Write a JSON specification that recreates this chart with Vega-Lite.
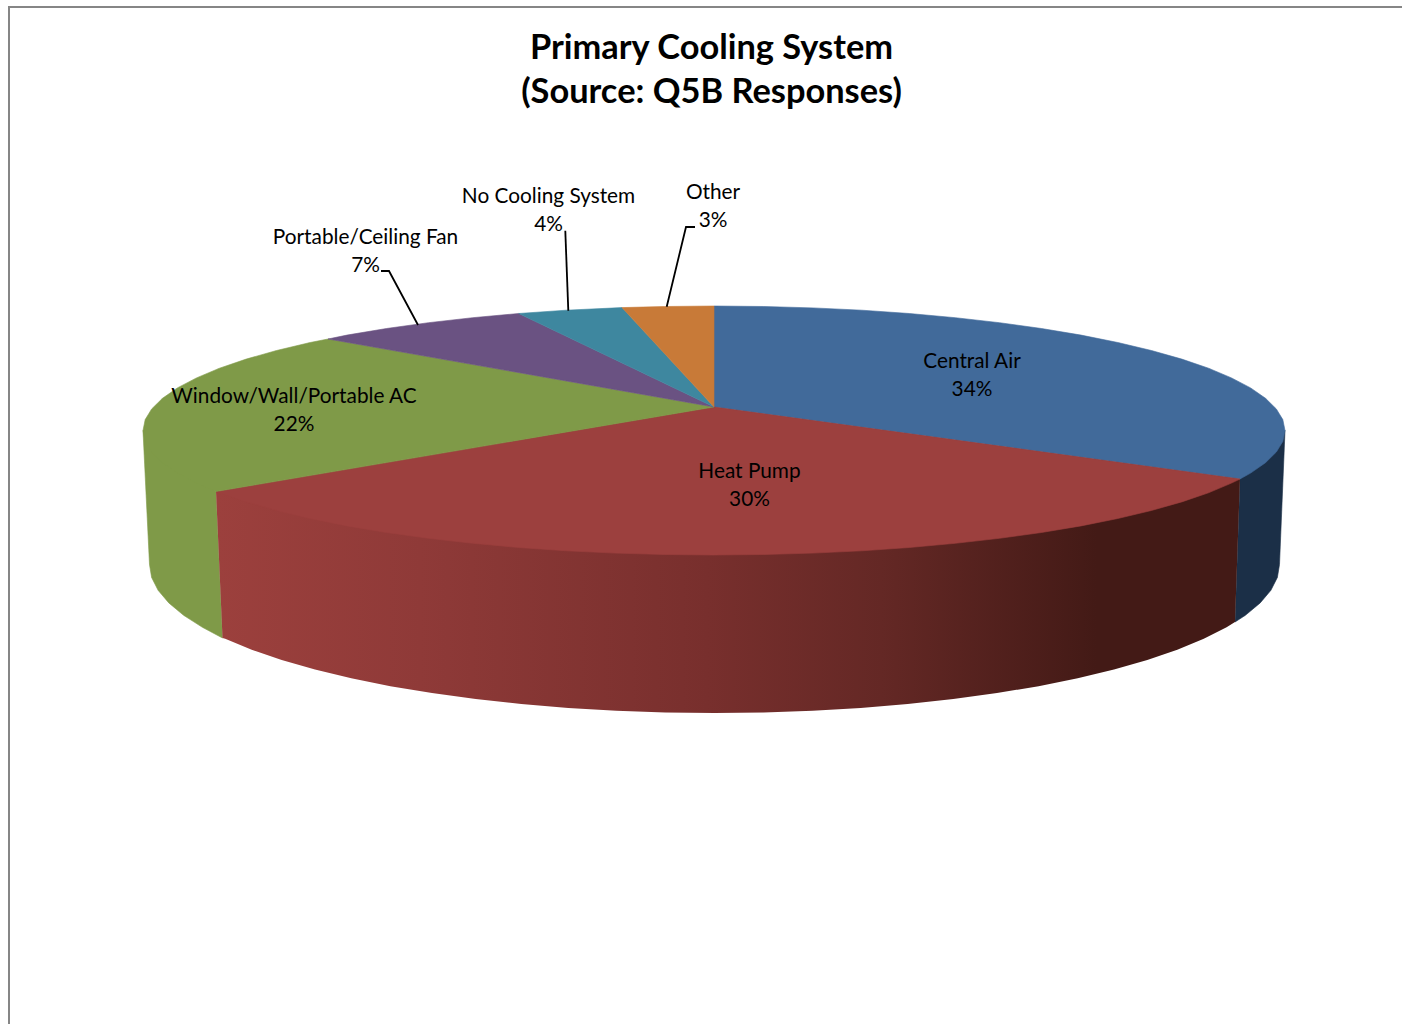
{
  "$schema": "https://vega.github.io/schema/vega-lite/v6.json",
  "width": 1402,
  "height": 1024,
  "padding": 0,
  "autosize": "none",
  "background": "#ffffff",
  "view": {"stroke": null},
  "config": {"axis": {"disable": true}},
  "datasets": {
    "frame": [
      {"x": 9, "y": 1024}, {"x": 9, "y": 7}, {"x": 1402, "y": 7}
    ],
    "walls": [
      {"slice": "Central Air", "x": 1285, "y": 430.5}, {"slice": "Central Air", "x": 1240, "y": 479},
      {"slice": "Central Air", "x": 1235, "y": 622}, {"slice": "Central Air", "x": 1245.4, "y": 615.3}, {"slice": "Central Air", "x": 1260.2, "y": 602.9}, {"slice": "Central Air", "x": 1270.9, "y": 590.3}, {"slice": "Central Air", "x": 1277.4, "y": 577.4}, {"slice": "Central Air", "x": 1279.5, "y": 564.5},

      {"slice": "Window/Wall/Portable AC", "x": 216, "y": 491.5}, {"slice": "Window/Wall/Portable AC", "x": 143, "y": 430.5},
      {"slice": "Window/Wall/Portable AC", "x": 149.5, "y": 564.5}, {"slice": "Window/Wall/Portable AC", "x": 151.6, "y": 577.4}, {"slice": "Window/Wall/Portable AC", "x": 158.1, "y": 590.3}, {"slice": "Window/Wall/Portable AC", "x": 168.8, "y": 602.9}, {"slice": "Window/Wall/Portable AC", "x": 183.6, "y": 615.3}, {"slice": "Window/Wall/Portable AC", "x": 202.4, "y": 627.3}, {"slice": "Window/Wall/Portable AC", "x": 222.5, "y": 638},

      {"slice": "Heat Pump", "x": 1240, "y": 479}, {"slice": "Heat Pump", "x": 714, "y": 407}, {"slice": "Heat Pump", "x": 216, "y": 491.5},
      {"slice": "Heat Pump", "x": 222.5, "y": 638}, {"slice": "Heat Pump", "x": 225.2, "y": 638.8}, {"slice": "Heat Pump", "x": 251.7, "y": 649.7}, {"slice": "Heat Pump", "x": 281.7, "y": 660}, {"slice": "Heat Pump", "x": 315, "y": 669.5}, {"slice": "Heat Pump", "x": 351.3, "y": 678.3}, {"slice": "Heat Pump", "x": 390.4, "y": 686.2}, {"slice": "Heat Pump", "x": 432, "y": 693.1}, {"slice": "Heat Pump", "x": 475.7, "y": 699.1}, {"slice": "Heat Pump", "x": 521.3, "y": 704}, {"slice": "Heat Pump", "x": 568.3, "y": 707.9}, {"slice": "Heat Pump", "x": 616.4, "y": 710.7}, {"slice": "Heat Pump", "x": 665.3, "y": 712.4}, {"slice": "Heat Pump", "x": 714.5, "y": 713}, {"slice": "Heat Pump", "x": 763.7, "y": 712.4}, {"slice": "Heat Pump", "x": 812.6, "y": 710.7}, {"slice": "Heat Pump", "x": 860.7, "y": 707.9}, {"slice": "Heat Pump", "x": 907.7, "y": 704}, {"slice": "Heat Pump", "x": 953.3, "y": 699.1}, {"slice": "Heat Pump", "x": 997, "y": 693.1}, {"slice": "Heat Pump", "x": 1038.6, "y": 686.2}, {"slice": "Heat Pump", "x": 1077.7, "y": 678.3}, {"slice": "Heat Pump", "x": 1114, "y": 669.5}, {"slice": "Heat Pump", "x": 1147.3, "y": 660}, {"slice": "Heat Pump", "x": 1177.3, "y": 649.7}, {"slice": "Heat Pump", "x": 1203.8, "y": 638.8}, {"slice": "Heat Pump", "x": 1226.6, "y": 627.3}, {"slice": "Heat Pump", "x": 1235, "y": 622}
    ],
    "tops": [
      {"slice": "Central Air", "x": 714, "y": 407}, {"slice": "Central Air", "x": 714, "y": 306}, {"slice": "Central Air", "x": 763.8, "y": 306.5}, {"slice": "Central Air", "x": 813.1, "y": 307.9}, {"slice": "Central Air", "x": 861.8, "y": 310.2}, {"slice": "Central Air", "x": 909.3, "y": 313.5}, {"slice": "Central Air", "x": 955.3, "y": 317.7}, {"slice": "Central Air", "x": 999.5, "y": 322.7}, {"slice": "Central Air", "x": 1041.5, "y": 328.5}, {"slice": "Central Air", "x": 1081, "y": 335.1}, {"slice": "Central Air", "x": 1117.8, "y": 342.5}, {"slice": "Central Air", "x": 1151.4, "y": 350.5}, {"slice": "Central Air", "x": 1181.8, "y": 359.1}, {"slice": "Central Air", "x": 1208.5, "y": 368.2}, {"slice": "Central Air", "x": 1231.5, "y": 377.9}, {"slice": "Central Air", "x": 1250.6, "y": 387.9}, {"slice": "Central Air", "x": 1265.5, "y": 398.3}, {"slice": "Central Air", "x": 1276.3, "y": 408.9}, {"slice": "Central Air", "x": 1282.8, "y": 419.6}, {"slice": "Central Air", "x": 1285, "y": 430.5}, {"slice": "Central Air", "x": 1282.8, "y": 441.4}, {"slice": "Central Air", "x": 1276.3, "y": 452.1}, {"slice": "Central Air", "x": 1265.5, "y": 462.7}, {"slice": "Central Air", "x": 1250.6, "y": 473.1}, {"slice": "Central Air", "x": 1240, "y": 479},

      {"slice": "Heat Pump", "x": 714, "y": 407}, {"slice": "Heat Pump", "x": 1240, "y": 479}, {"slice": "Heat Pump", "x": 1231.5, "y": 483.1}, {"slice": "Heat Pump", "x": 1208.5, "y": 492.8}, {"slice": "Heat Pump", "x": 1181.8, "y": 501.9}, {"slice": "Heat Pump", "x": 1151.4, "y": 510.5}, {"slice": "Heat Pump", "x": 1117.8, "y": 518.5}, {"slice": "Heat Pump", "x": 1081, "y": 525.9}, {"slice": "Heat Pump", "x": 1041.5, "y": 532.5}, {"slice": "Heat Pump", "x": 999.5, "y": 538.3}, {"slice": "Heat Pump", "x": 955.3, "y": 543.3}, {"slice": "Heat Pump", "x": 909.3, "y": 547.5}, {"slice": "Heat Pump", "x": 861.8, "y": 550.8}, {"slice": "Heat Pump", "x": 813.1, "y": 553.1}, {"slice": "Heat Pump", "x": 763.8, "y": 554.5}, {"slice": "Heat Pump", "x": 714, "y": 555}, {"slice": "Heat Pump", "x": 664.2, "y": 554.5}, {"slice": "Heat Pump", "x": 614.9, "y": 553.1}, {"slice": "Heat Pump", "x": 566.2, "y": 550.8}, {"slice": "Heat Pump", "x": 518.7, "y": 547.5}, {"slice": "Heat Pump", "x": 472.7, "y": 543.3}, {"slice": "Heat Pump", "x": 428.5, "y": 538.3}, {"slice": "Heat Pump", "x": 386.5, "y": 532.5}, {"slice": "Heat Pump", "x": 347, "y": 525.9}, {"slice": "Heat Pump", "x": 310.2, "y": 518.5}, {"slice": "Heat Pump", "x": 276.6, "y": 510.5}, {"slice": "Heat Pump", "x": 246.2, "y": 501.9}, {"slice": "Heat Pump", "x": 219.5, "y": 492.8}, {"slice": "Heat Pump", "x": 216, "y": 491.5},

      {"slice": "Window/Wall/Portable AC", "x": 714, "y": 407}, {"slice": "Window/Wall/Portable AC", "x": 216, "y": 491.5}, {"slice": "Window/Wall/Portable AC", "x": 196.5, "y": 483.1}, {"slice": "Window/Wall/Portable AC", "x": 177.4, "y": 473.1}, {"slice": "Window/Wall/Portable AC", "x": 162.5, "y": 462.7}, {"slice": "Window/Wall/Portable AC", "x": 151.7, "y": 452.1}, {"slice": "Window/Wall/Portable AC", "x": 145.2, "y": 441.4}, {"slice": "Window/Wall/Portable AC", "x": 143, "y": 430.5}, {"slice": "Window/Wall/Portable AC", "x": 145.2, "y": 419.6}, {"slice": "Window/Wall/Portable AC", "x": 151.7, "y": 408.9}, {"slice": "Window/Wall/Portable AC", "x": 162.5, "y": 398.3}, {"slice": "Window/Wall/Portable AC", "x": 177.4, "y": 387.9}, {"slice": "Window/Wall/Portable AC", "x": 196.5, "y": 377.9}, {"slice": "Window/Wall/Portable AC", "x": 219.5, "y": 368.2}, {"slice": "Window/Wall/Portable AC", "x": 246.2, "y": 359.1}, {"slice": "Window/Wall/Portable AC", "x": 276.6, "y": 350.5}, {"slice": "Window/Wall/Portable AC", "x": 310.2, "y": 342.5}, {"slice": "Window/Wall/Portable AC", "x": 328, "y": 339},

      {"slice": "Portable/Ceiling Fan", "x": 714, "y": 407}, {"slice": "Portable/Ceiling Fan", "x": 328, "y": 339}, {"slice": "Portable/Ceiling Fan", "x": 347, "y": 335.1}, {"slice": "Portable/Ceiling Fan", "x": 386.5, "y": 328.5}, {"slice": "Portable/Ceiling Fan", "x": 428.5, "y": 322.7}, {"slice": "Portable/Ceiling Fan", "x": 472.7, "y": 317.7}, {"slice": "Portable/Ceiling Fan", "x": 518.7, "y": 313.5},

      {"slice": "No Cooling System", "x": 714, "y": 407}, {"slice": "No Cooling System", "x": 518.7, "y": 313.5}, {"slice": "No Cooling System", "x": 566.2, "y": 310.2}, {"slice": "No Cooling System", "x": 622, "y": 307.6},

      {"slice": "Other", "x": 714, "y": 407}, {"slice": "Other", "x": 622, "y": 307.6}, {"slice": "Other", "x": 664.2, "y": 306.5}, {"slice": "Other", "x": 714, "y": 306}
    ],
    "leaders": [
      {"slice": "Portable/Ceiling Fan", "x": 381, "y": 271}, {"slice": "Portable/Ceiling Fan", "x": 389, "y": 271}, {"slice": "Portable/Ceiling Fan", "x": 418, "y": 325},
      {"slice": "No Cooling System", "x": 565.3, "y": 230.7}, {"slice": "No Cooling System", "x": 568.3, "y": 310.7},
      {"slice": "Other", "x": 695, "y": 227}, {"slice": "Other", "x": 686, "y": 227}, {"slice": "Other", "x": 666.7, "y": 306.7}
    ],
    "labels": [
      {"slice": "Central Air", "share": 0.34, "x": 972, "y": 368},
      {"slice": "Heat Pump", "share": 0.30, "x": 749.5, "y": 478},
      {"slice": "Window/Wall/Portable AC", "share": 0.22, "x": 294, "y": 403},
      {"slice": "Portable/Ceiling Fan", "share": 0.07, "x": 365.5, "y": 244},
      {"slice": "No Cooling System", "share": 0.04, "x": 548.5, "y": 203},
      {"slice": "Other", "share": 0.03, "x": 713, "y": 199}
    ],
    "heading": [
      {"line": "Primary Cooling System", "x": 711.5, "y": 59},
      {"line": "(Source: Q5B Responses)", "x": 711.5, "y": 103}
    ]
  },
  "data": {"name": "tops"},
  "resolve": {"scale": {"fill": "independent", "stroke": "independent"}},
  "layer": [
    {
      "data": {"name": "frame"},
      "transform": [{"window": [{"op": "row_number", "as": "step"}]}],
      "mark": {"type": "line", "stroke": "#868686", "strokeWidth": 2, "clip": true},
      "encoding": {
        "x": {"field": "x", "type": "quantitative", "scale": {"domain": [0, 1402]}, "axis": null},
        "y": {"field": "y", "type": "quantitative", "scale": {"domain": [1024, 0]}, "axis": null},
        "order": {"field": "step", "type": "quantitative"}
      }
    },
    {
      "data": {"name": "walls"},
      "transform": [
        {"window": [{"op": "row_number", "as": "step"}]},
        {"filter": "datum.slice !== 'Heat Pump'"}
      ],
      "mark": {"type": "line", "interpolate": "linear-closed", "filled": true, "strokeWidth": 0.6},
      "encoding": {
        "x": {"field": "x", "type": "quantitative", "scale": {"domain": [0, 1402]}, "axis": null},
        "y": {"field": "y", "type": "quantitative", "scale": {"domain": [1024, 0]}, "axis": null},
        "order": {"field": "step", "type": "quantitative"},
        "fill": {"field": "slice", "type": "nominal", "legend": null, "scale": {"domain": ["Central Air", "Window/Wall/Portable AC"], "range": ["#1b2f47", "#7f9a48"]}},
        "stroke": {"field": "slice", "type": "nominal", "legend": null, "scale": {"domain": ["Central Air", "Window/Wall/Portable AC"], "range": ["#1b2f47", "#7f9a48"]}}
      }
    },
    {
      "data": {"name": "walls"},
      "transform": [
        {"window": [{"op": "row_number", "as": "step"}]},
        {"filter": "datum.slice === 'Heat Pump'"}
      ],
      "mark": {
        "type": "line",
        "interpolate": "linear-closed",
        "filled": true,
        "strokeWidth": 0,
        "fill": {
          "gradient": "linear", "x1": 0, "y1": 0, "x2": 1, "y2": 0,
          "stops": [
            {"offset": 0, "color": "#9c403d"},
            {"offset": 0.2, "color": "#8f3a38"},
            {"offset": 0.48, "color": "#782f2d"},
            {"offset": 0.65, "color": "#642825"},
            {"offset": 0.86, "color": "#431a16"},
            {"offset": 1, "color": "#431a16"}
          ]
        }
      },
      "encoding": {
        "x": {"field": "x", "type": "quantitative", "scale": {"domain": [0, 1402]}, "axis": null},
        "y": {"field": "y", "type": "quantitative", "scale": {"domain": [1024, 0]}, "axis": null},
        "order": {"field": "step", "type": "quantitative"}
      }
    },
    {
      "transform": [{"window": [{"op": "row_number", "as": "step"}]}],
      "mark": {"type": "line", "interpolate": "linear-closed", "filled": true, "strokeWidth": 0.6},
      "encoding": {
        "x": {"field": "x", "type": "quantitative", "scale": {"domain": [0, 1402]}, "axis": null},
        "y": {"field": "y", "type": "quantitative", "scale": {"domain": [1024, 0]}, "axis": null},
        "order": {"field": "step", "type": "quantitative"},
        "fill": {"field": "slice", "type": "nominal", "legend": null, "scale": {"domain": ["Central Air", "Heat Pump", "Window/Wall/Portable AC", "Portable/Ceiling Fan", "No Cooling System", "Other"], "range": ["#416a9a", "#9c403e", "#7f9a48", "#6a5282", "#3e879f", "#c87a38"]}},
        "stroke": {"field": "slice", "type": "nominal", "legend": null, "scale": {"domain": ["Central Air", "Heat Pump", "Window/Wall/Portable AC", "Portable/Ceiling Fan", "No Cooling System", "Other"], "range": ["#416a9a", "#9c403e", "#7f9a48", "#6a5282", "#3e879f", "#c87a38"]}}
      }
    },
    {
      "data": {"name": "leaders"},
      "transform": [{"window": [{"op": "row_number", "as": "step"}]}],
      "mark": {"type": "line", "stroke": "#000000", "strokeWidth": 1.8},
      "encoding": {
        "x": {"field": "x", "type": "quantitative", "scale": {"domain": [0, 1402]}, "axis": null},
        "y": {"field": "y", "type": "quantitative", "scale": {"domain": [1024, 0]}, "axis": null},
        "detail": {"field": "slice"},
        "order": {"field": "step", "type": "quantitative"}
      }
    },
    {
      "data": {"name": "labels"},
      "mark": {"type": "text", "font": "Lato", "fontSize": 20.8, "align": "center", "baseline": "alphabetic", "fill": "#000000"},
      "encoding": {
        "x": {"field": "x", "type": "quantitative", "scale": {"domain": [0, 1402]}, "axis": null},
        "y": {"field": "y", "type": "quantitative", "scale": {"domain": [1024, 0]}, "axis": null},
        "text": {"field": "slice"}
      }
    },
    {
      "data": {"name": "labels"},
      "mark": {"type": "text", "font": "Lato", "fontSize": 20.8, "align": "center", "baseline": "alphabetic", "fill": "#000000", "dy": 28},
      "encoding": {
        "x": {"field": "x", "type": "quantitative", "scale": {"domain": [0, 1402]}, "axis": null},
        "y": {"field": "y", "type": "quantitative", "scale": {"domain": [1024, 0]}, "axis": null},
        "text": {"field": "share", "type": "quantitative", "format": ".0%"}
      }
    },
    {
      "data": {"name": "heading"},
      "mark": {"type": "text", "font": "Lato", "fontSize": 34.4, "fontWeight": "bold", "align": "center", "baseline": "alphabetic", "fill": "#000000"},
      "encoding": {
        "x": {"field": "x", "type": "quantitative", "scale": {"domain": [0, 1402]}, "axis": null},
        "y": {"field": "y", "type": "quantitative", "scale": {"domain": [1024, 0]}, "axis": null},
        "text": {"field": "line"}
      }
    }
  ]
}
